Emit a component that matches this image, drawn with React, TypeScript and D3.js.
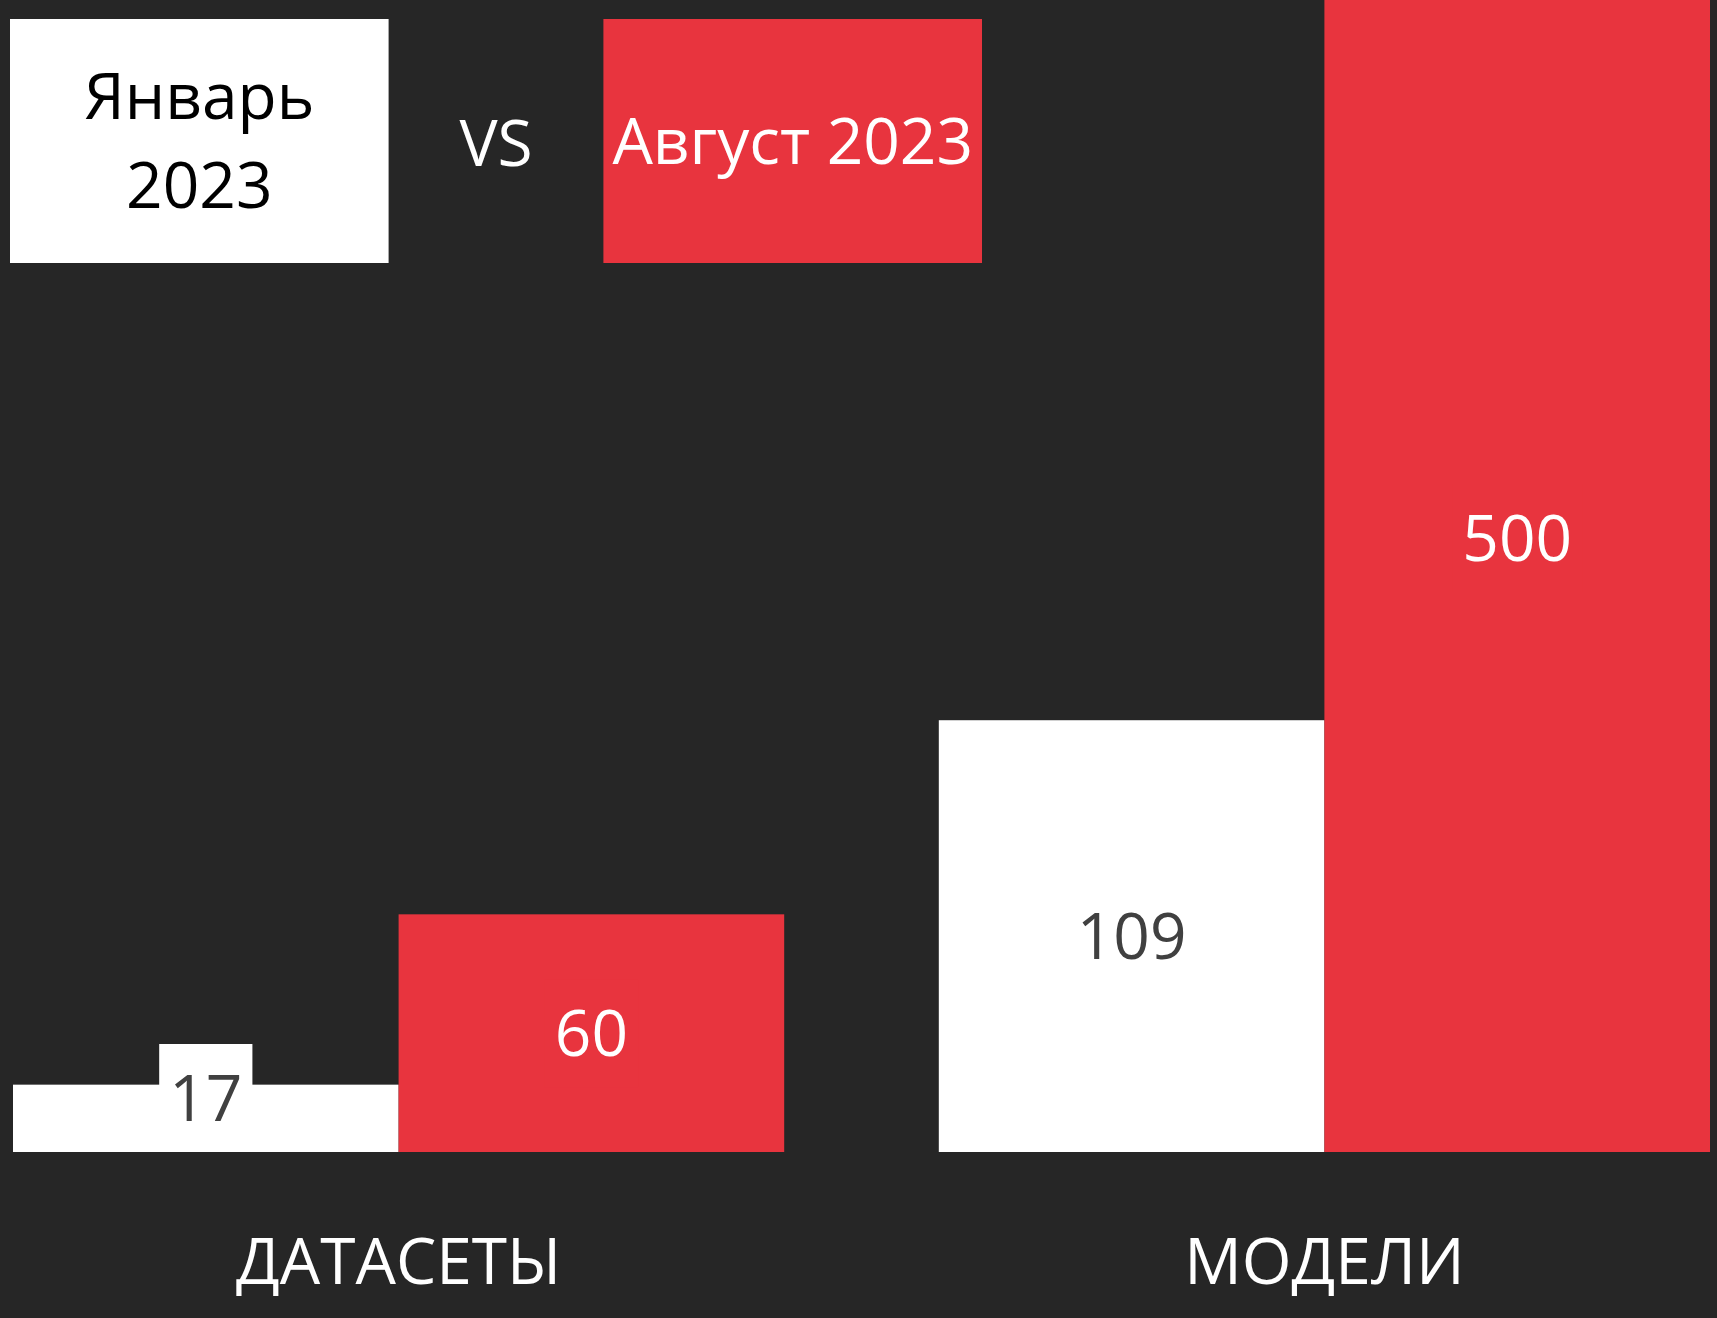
import React from "react";
import * as d3 from "d3";

const categories = ["ДАТАСЕТЫ", "МОДЕЛИ"];
const seriesNames = ["Январь 2023", "Август 2023"];
const seriesTitleLines = [["Январь", "2023"], ["Август 2023"]];
const january = [17, 109];
const august = [60, 500];
const seriesValues = [january, august];
const seriesColors = ["#FFFFFF", "#E8343E"];
const seriesTitleColors = ["#000000", "#FFFFFF"];
const labelColors = ["#404040", "#FFFFFF"];
const vsText = "VS";
const yMax = 310;

const W = 1717;
const H = 1318;
const BG = "#262626";
const FONT = "'Open Sans', 'Noto Sans', sans-serif";
const FS = 64;
const CAP = FS * 0.714;

export default function App() {
  const baseline = 1152;
  const plotTop = -76;
  const y = d3.scaleLinear().domain([0, yMax]).range([baseline, plotTop]);
  const x0 = d3.scaleBand<string>().domain(categories).range([13, 1710]).paddingInner(0.167).paddingOuter(0);
  const x1 = d3.scaleBand<string>().domain(seriesNames).range([0, x0.bandwidth()]).padding(0);

  const boxH = 108;
  const visTop = 0;

  const bars: any[] = [];
  const labels: any[] = [];
  categories.forEach((c, ci) => {
    seriesNames.forEach((s, si) => {
      const v = seriesValues[si][ci];
      const bx = (x0(c) || 0) + (x1(s) || 0);
      const bw = x1.bandwidth();
      const top = y(v);
      bars.push(
        <rect key={`b-${ci}-${si}`} x={bx} y={top} width={bw} height={baseline - top} fill={seriesColors[si]} />
      );
      const vTop = Math.max(top, plotTop);
      let cy = (vTop + baseline) / 2;
      cy = Math.min(cy, baseline - boxH / 2);
      const txt = String(v);
      const tw = txt.length * FS * 0.572 + 20;
      labels.push(
        <g key={`l-${ci}-${si}`}>
          <rect x={bx + bw / 2 - tw / 2} y={cy - boxH / 2} width={tw} height={boxH} fill={seriesColors[si]} />
          <text x={bx + bw / 2} y={cy + CAP / 2} textAnchor="middle" fontSize={FS} fontFamily={FONT} fill={labelColors[si]}>
            {txt}
          </text>
        </g>
      );
    });
  });

  // header legend boxes
  const legendX = d3.scaleBand<string>().domain(seriesNames).range([10, 982]).paddingInner(0.362).paddingOuter(0);
  const legTop = 19;
  const legH = 244;

  return (
    <svg width={W} height={H} style={{ position: "absolute", left: 0, top: 0, display: "block" }}>
      <rect x={0} y={0} width={W} height={H} fill={BG} />
      <defs>
        <clipPath id="plotClip">
          <rect x={0} y={visTop} width={W} height={baseline - visTop + 1} />
        </clipPath>
      </defs>
      <g clipPath="url(#plotClip)">
        {bars}
        {labels}
      </g>
      {categories.map((c) => (
        <text key={c} x={(x0(c) || 0) + x0.bandwidth() / 2} y={1284} textAnchor="middle" fontSize={FS} fontFamily={FONT} fill="#FFFFFF">
          {c}
        </text>
      ))}
      {seriesNames.map((s, si) => {
        const lx = legendX(s) || 0;
        const lw = legendX.bandwidth();
        const lines = seriesTitleLines[si];
        const lineH = 89;
        const cy = legTop + legH / 2;
        const firstBase = cy - ((lines.length - 1) * lineH) / 2 + CAP / 2;
        return (
          <g key={s}>
            <rect x={lx} y={legTop} width={lw} height={legH} fill={seriesColors[si]} />
            {lines.map((ln, li) => (
              <text key={li} x={lx + lw / 2} y={firstBase + li * lineH} textAnchor="middle" fontSize={FS} fontFamily={FONT} fill={seriesTitleColors[si]}>
                {ln}
              </text>
            ))}
          </g>
        );
      })}
      <text x={496} y={166} textAnchor="middle" fontSize={FS} fontFamily={FONT} fill="#FFFFFF">
        {vsText}
      </text>
    </svg>
  );
}
